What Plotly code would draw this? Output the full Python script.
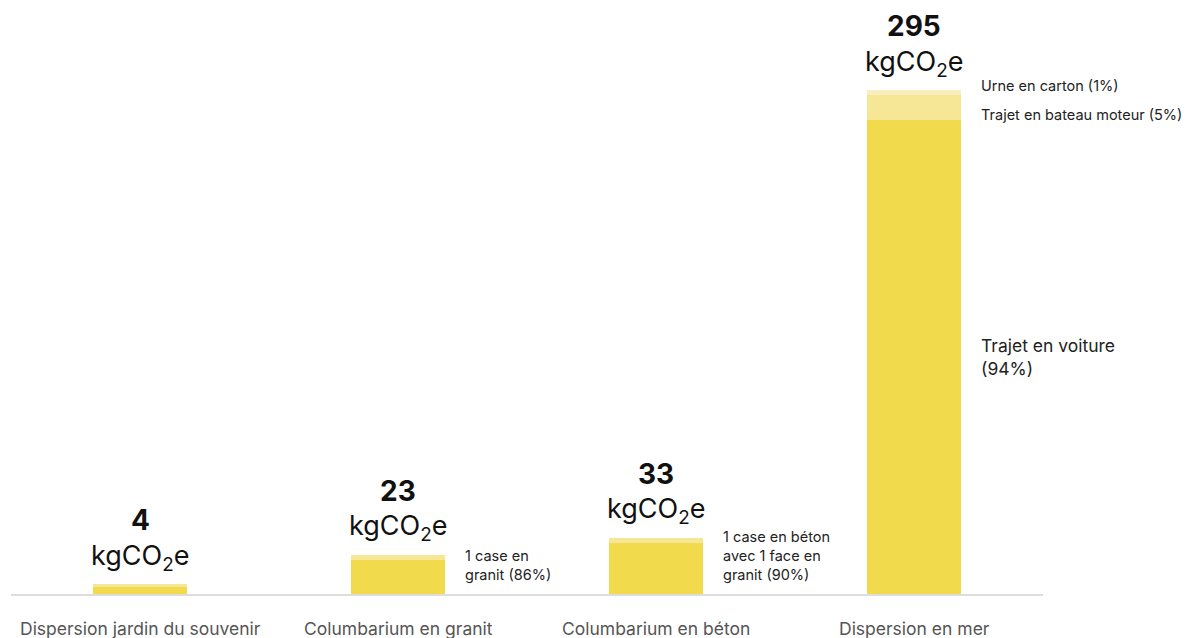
import plotly.graph_objects as go

categories = ["Dispersion jardin du souvenir", "Columbarium en granit",
              "Columbarium en béton", "Dispersion en mer"]
totals = [4, 23, 33, 295]

# stacked segments (kgCO2e), bottom to top
main_part = [4.1, 19.8, 29.7, 277.3]
second_part = [1.7, 3.2, 3.3, 14.75]
third_part = [0, 0, 0, 2.95]

side_labels = [
    (1, 16.4, "1 case en<br>granit (86%)", 14.5),
    (2, 22.2, "1 case en béton<br>avec 1 face en<br>granit (90%)", 14.5),
    (3, 297.5, "Urne en carton (1%)", 14.5),
    (3, 280.5, "Trajet en bateau moteur (5%)", 14.5),
    (3, 139.0, "Trajet en voiture<br>(94%)", 17.5),
]

FONT = "Inter"
xs = list(range(len(categories)))

fig = go.Figure()
for vals, col in [(main_part, "#F1DA4B"), (second_part, "#F5E795"), (third_part, "#F8EEBE")]:
    fig.add_trace(go.Bar(x=xs, y=vals, marker=dict(color=col, line=dict(width=0)),
                         hoverinfo="skip"))

ann = []
for i, t in enumerate(totals):
    top = main_part[i] + second_part[i] + third_part[i]
    ann.append(dict(x=i, y=top, xref="x", yref="y", text=f"<b>{t}</b>", showarrow=False,
                    yanchor="middle", yshift=64, font=dict(size=28, color="#111")))
    ann.append(dict(x=i, y=top, xref="x", yref="y", text="kgCO<sub>2</sub>e", showarrow=False,
                    yanchor="middle", yshift=27, font=dict(size=27, color="#111")))
    ann.append(dict(x=i, y=0, xref="x", yref="y", text=categories[i], showarrow=False,
                    yanchor="middle", yshift=-34, font=dict(size=17.5, color="#555")))

for i, y, txt, sz in side_labels:
    ann.append(dict(x=i, y=y, xref="x", yref="y", text=txt, showarrow=False, align="left",
                    xanchor="left", yanchor="middle", xshift=65, font=dict(size=sz, color="#222")))

# page body adds an 8px offset, so the figure is 8px smaller each way
fig.update_layout(
    barmode="stack",
    bargap=0.636,
    width=1191, height=630,
    margin=dict(l=3, r=156, t=0, b=44),
    plot_bgcolor="white", paper_bgcolor="white",
    showlegend=False,
    font=dict(family=FONT),
    annotations=ann,
    xaxis=dict(range=[-0.5, 3.5], showticklabels=False, showgrid=False, zeroline=False,
               showline=True, linecolor="#dddddd", linewidth=2, fixedrange=True),
    yaxis=dict(range=[0, 343.0], visible=False, fixedrange=True),
)

fig.write_html("out.html", config={"displayModeBar": False})
